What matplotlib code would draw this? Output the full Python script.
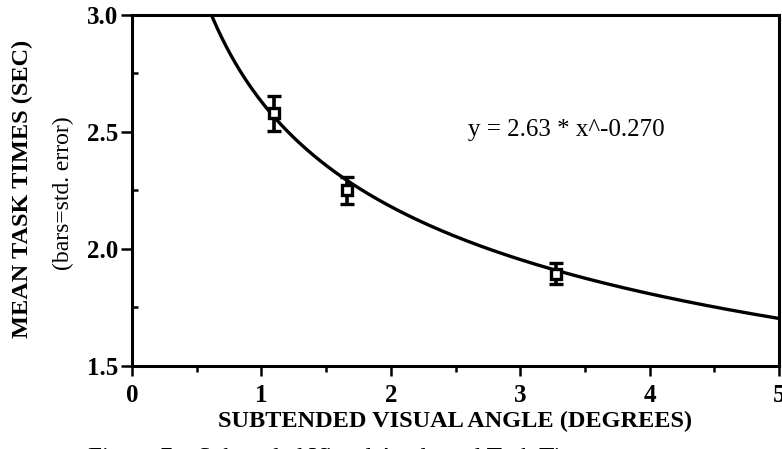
import numpy as np
import matplotlib
matplotlib.use("Agg")
import matplotlib.pyplot as plt
from matplotlib.ticker import MultipleLocator

plt.rcParams['font.family'] = ['Liberation Serif', 'DejaVu Serif']

# mean task times per visual angle
angulos = [1.1, 1.66, 3.28]
tempos = [2.58, 2.25, 1.895]
erros = [0.075, 0.056, 0.045]

# fitted power curve shown on the chart: y = a * x^b
coef_a = 2.63
coef_b = -0.270
texto_ajuste = "y = 2.63 * x^-0.270"

x_ticks = [0, 1, 2, 3, 4, 5]
y_ticks = [1.5, 2.0, 2.5, 3.0]

fig = plt.figure(figsize=(7.82, 4.49), dpi=100)
ax = fig.add_axes([0.1688, 0.1849, 0.8274, 0.7817])

xs = np.linspace(0.5, 5, 400)
ax.plot(xs, coef_a * xs ** coef_b, color='black', lw=2.4, solid_capstyle='butt')

ax.errorbar(angulos, tempos, yerr=erros, fmt='s', color='black', mfc='white',
            mec='black', mew=2.4, ms=7, elinewidth=2.6, capsize=5, capthick=3.2)

ax.text(2.6, 2.51, texto_ajuste, fontsize=18, ha='left', va='center')

ax.set_xlim(0, 5)
ax.set_ylim(1.5, 3.0)
ax.set_xticks(x_ticks)
ax.set_yticks(y_ticks)
ax.set_xticklabels([str(v) for v in x_ticks], fontweight='bold', fontsize=18)
ax.set_yticklabels(['%.1f' % v for v in y_ticks], fontweight='bold', fontsize=18)
ax.xaxis.set_minor_locator(MultipleLocator(0.5))
ax.yaxis.set_minor_locator(MultipleLocator(0.25))
ax.tick_params(axis='x', which='major', direction='out', length=7, width=1.8, pad=6)
ax.tick_params(axis='x', which='minor', direction='out', length=4, width=1.8)
ax.tick_params(axis='y', which='major', direction='out', length=8, width=1.8, pad=2)
ax.tick_params(axis='y', which='minor', direction='in', length=4, width=1.8)
for s in ax.spines.values():
    s.set_linewidth(2.2)

ax.set_xlabel('SUBTENDED VISUAL ANGLE (DEGREES)', fontweight='bold', fontsize=17.5, labelpad=3)
fig.text(0.029, 0.58, 'MEAN TASK TIMES (SEC)', rotation=90, fontweight='bold',
         fontsize=17.5, ha='center', va='center')
fig.text(0.081, 0.57, '(bars=std. error)', rotation=90, fontsize=17,
         ha='center', va='center')

# caption cut off at the bottom edge of the scan
fig.text(0.112, 0.003, 'Figure 7.   Subtended Visual Angle and Task Time', fontsize=18,
         ha='left', va='top')

fig.savefig('out.png', dpi=100)
